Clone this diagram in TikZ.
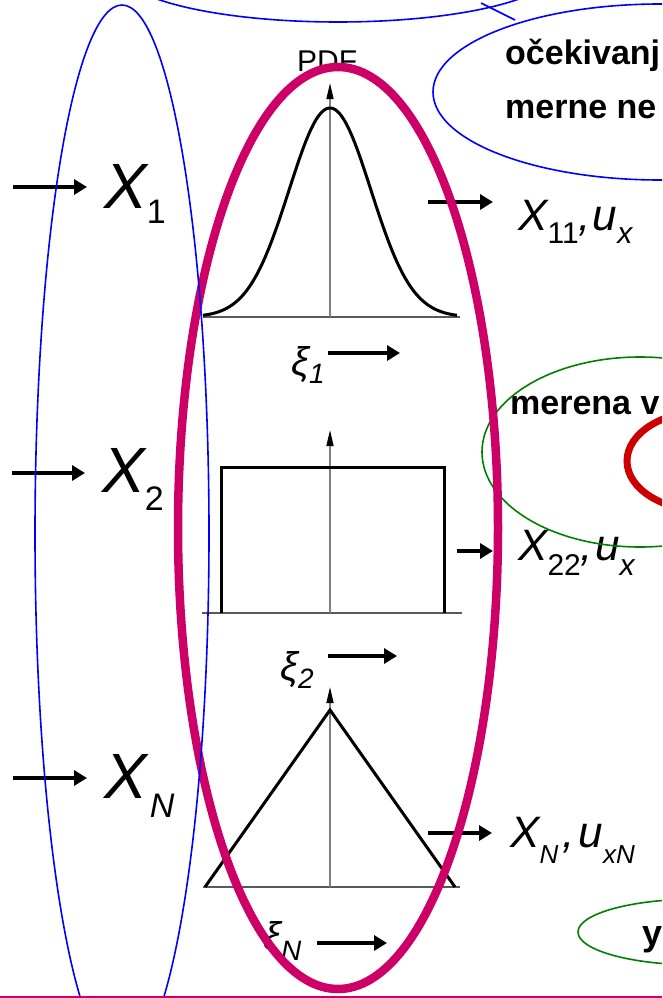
\documentclass[tikz,border=0pt]{standalone}
\usepackage{fontspec}
\setmainfont{Liberation Sans}
\usetikzlibrary{arrows.meta}
\definecolor{mag}{RGB}{204,0,102}
\definecolor{myred}{RGB}{204,0,0}
\definecolor{mygreen}{RGB}{0,128,0}
\definecolor{myblue}{RGB}{0,0,255}
\newcommand{\mysub}[3]{\raisebox{-#1pt}{\fontsize{#2}{#2}\selectfont #3}}
\tikzset{
  fat/.style={line width=4.8pt,-{Triangle[length=13pt,width=15pt]}},
  axisline/.style={line width=1.5pt,draw=black!50,-{Triangle[length=16pt,width=7pt,color=black]}},
  curve/.style={line width=3pt,line join=miter,draw=black},
  baseline/.style={line width=2pt,draw=black!65},
  lbl/.style={inner sep=0pt,anchor=base west},
  bigx/.style={lbl,font=\fontsize{64}{64}\selectfont\itshape},
  midx/.style={lbl,font=\fontsize{44}{44}\selectfont\itshape},
  xilbl/.style={lbl,font=\fontsize{40}{40}\selectfont\itshape},
  boldtxt/.style={lbl,font=\fontsize{34}{34}\selectfont\bfseries},
  thinblue/.style={draw=myblue,line width=1.6pt},
  thingreen/.style={draw=mygreen,line width=1.6pt},
}
\begin{document}
\begin{tikzpicture}[x=1pt,y=-1pt]
\useasboundingbox (0,0) rectangle (662,998);
\clip (0,0) rectangle (662,998);
\fill[white] (0,0) rectangle (662,998);

% ---------- PDF plots ----------
% Gaussian
\draw[baseline] (203,317) -- (460,317);
\draw[axisline] (330,317) -- (330,83);
\draw[curve] plot[domain=-127:127,samples=120,smooth] ({330+\x},{317-209*exp(-(\x/41)*(\x/41)/2)});
\node[lbl,font=\fontsize{30}{30}\selectfont] (pdf) at (297,71) {PDF};
% Uniform
\draw[baseline] (202,613) -- (462,613);
\draw[axisline] (330,613) -- (330,430);
\draw[curve] (221,613) -- (221,467) -- (444,467) -- (444,613);
% Triangular
\draw[baseline] (203,887) -- (460,887);
\draw[axisline] (330,887) -- (330,687);
\draw[curve] (205,887) -- (330,710) -- (455,887);

% ---------- xi labels ----------
\node[xilbl] (xi1) at (291,375) {ξ\mysub{8}{28}{1}};
\node[xilbl] (xi2) at (280,680) {ξ\mysub{8}{28}{2}};
\node[xilbl] (xiN) at (263,950) {ξ\mysub{10}{28}{\itshape N}};
\coordinate (xi1s) at (328,353);
\coordinate (xi1e) at (400,353);
\coordinate (xi2s) at (328,656);
\coordinate (xi2e) at (397,656);
\coordinate (xiNs) at (317,943);
\coordinate (xiNe) at (387,943);
\draw[fat] (xi1s) -- (xi1e);
\draw[fat] (xi2s) -- (xi2e);
\draw[fat] (xiNs) -- (xiNe);

% ---------- left inputs ----------
\node[bigx] (X1) at (104,208) {X\mysub{15}{34}{\upshape 1}};
\node[bigx] (X2) at (102,492) {X\mysub{18}{34}{\upshape 2}};
\node[bigx] (XN) at (104,798) {X\kern3pt\mysub{19}{34}{N}};
\coordinate (a1s) at (13,187);
\coordinate (a1e) at (87,187);
\coordinate (a2s) at (12,473);
\coordinate (a2e) at (85,473);
\coordinate (aNs) at (13,778);
\coordinate (aNe) at (87,778);
\draw[fat] (a1s) -- (a1e);
\draw[fat] (a2s) -- (a2e);
\draw[fat] (aNs) -- (aNe);

% ---------- right outputs ----------
\node[midx] (Y1) at (518,230) {X\mysub{13}{30}{\upshape 11},\kern2pt u\mysub{13}{30}{x}};
\node[midx] (Y2) at (518,560) {X\mysub{15}{30}{\upshape 22},\kern2pt u\mysub{15}{30}{x}};
\node[midx] (YN) at (510,847) {X\mysub{16}{26}{N}\kern4pt,\kern4pt u\mysub{16}{26}{xN}};
\coordinate (r1s) at (428,202);
\coordinate (r1e) at (493,202);
\coordinate (r2s) at (457,551);
\coordinate (r2e) at (493,551);
\coordinate (rNs) at (428,833);
\coordinate (rNe) at (492,833);
\draw[fat] (r1s) -- (r1e);
\draw[fat] (r2s) -- (r2e);
\draw[fat] (rNs) -- (rNe);

% ---------- annotation texts ----------
\node[boldtxt] (t1) at (505,65) {očekivanj};
\node[boldtxt] (t2) at (505,118) {merne ne};
\node[boldtxt] (t3) at (510,414) {merena v};
\node[boldtxt,font=\fontsize{36}{36}\selectfont\bfseries] (t4) at (642,945) {y};

% ---------- ellipses ----------
\draw[thingreen] (640,452) ellipse [x radius=158pt,y radius=95pt];
\draw[thingreen] (698,932) ellipse [x radius=120pt,y radius=33pt];
\draw[draw=mag,line width=8.5pt] (338,528) ellipse [x radius=160pt,y radius=461pt];
\draw[thinblue] (122,533.5) ellipse [x radius=87pt,y radius=528.5pt];
\draw[thinblue] (338,-30) ellipse [x radius=218pt,y radius=52pt];
\draw[thinblue] (660,92) ellipse [x radius=227pt,y radius=88pt];
\coordinate (c1) at (481,3);
\coordinate (c2) at (515,20);
\draw[thinblue] (c1) -- (c2);
\draw[draw=myred,line width=7pt] (706,461) ellipse [x radius=79pt,y radius=50pt];
\draw[draw=mag,line width=2pt] (0,997) -- (662,997);
\end{tikzpicture}
\end{document}
